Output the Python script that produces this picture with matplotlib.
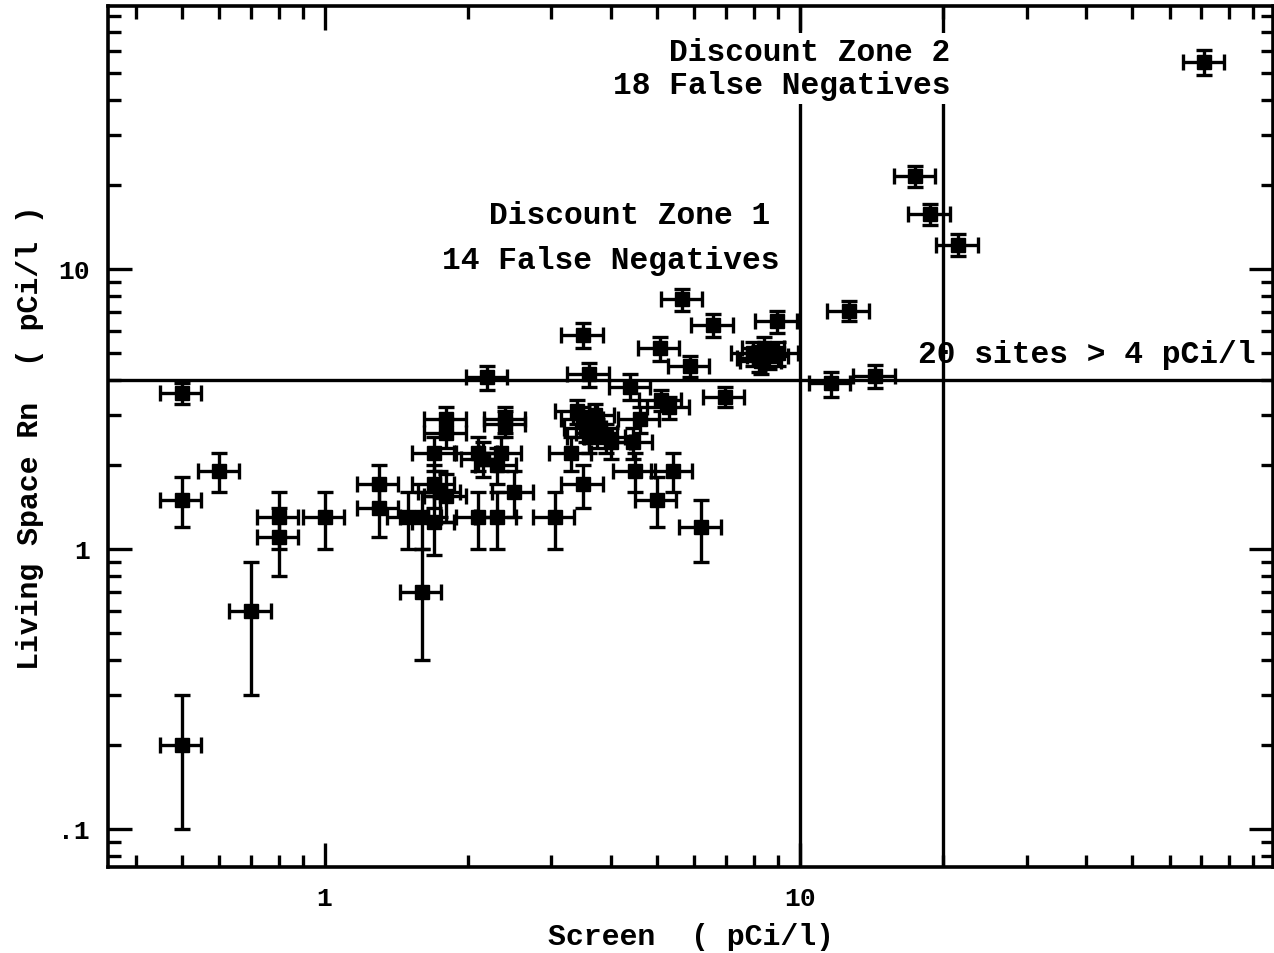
import numpy as np
import matplotlib
matplotlib.use("Agg")
from matplotlib import pyplot as plt
from matplotlib.ticker import FixedLocator, FixedFormatter, LogLocator, NullFormatter

# screening measurement (pCi/l) and living space radon (pCi/l)
screen = [0.50, 0.50, 0.60, 0.70, 0.50, 0.80, 0.80, 1.00,
          1.30, 1.30, 1.50, 1.60, 1.70, 1.60, 1.70, 1.70, 1.75, 1.80, 1.80, 1.80,
          2.10, 2.10, 2.15, 2.30, 2.30, 2.35, 2.40, 2.40, 2.50, 2.20,
          3.05, 3.50, 3.30, 3.40, 3.50, 3.55, 3.60, 3.70, 3.75, 3.90, 4.00, 3.60, 3.50,
          4.40, 4.45, 4.60, 4.50, 5.40, 5.00, 6.20, 5.10, 5.30, 6.95,
          5.07, 5.66, 5.86, 6.56, 8.95,
          7.95, 8.20, 8.40, 8.60, 8.30, 9.00,
          11.6, 12.7, 14.4, 17.5, 18.8, 21.5, 71.0]
living = [3.6, 1.5, 1.9, 0.6, 0.2, 1.3, 1.1, 1.3,
          1.7, 1.4, 1.3, 1.3, 1.25, 0.7, 1.7, 2.2, 1.6, 2.9, 2.6, 1.55,
          2.2, 1.3, 2.1, 1.3, 2.0, 2.2, 2.9, 2.8, 1.6, 4.1,
          1.3, 1.7, 2.2, 3.1, 2.9, 2.7, 2.5, 3.0, 2.6, 2.5, 2.4, 4.2, 5.8,
          3.8, 2.4, 2.9, 1.9, 1.9, 1.5, 1.2, 3.4, 3.2, 3.5,
          5.2, 7.8, 4.5, 6.3, 6.5,
          5.0, 4.8, 5.2, 4.9, 4.7, 5.0,
          3.9, 7.1, 4.15, 21.5, 15.7, 12.2, 55.0]
living_err = [0.3, 0.3, 0.3, 0.3, 0.1, 0.3, 0.3, 0.3,
              0.3, 0.3, 0.3, 0.3, 0.3, 0.3, 0.3, 0.3, 0.3, 0.3, 0.3, 0.3,
              0.3, 0.3, 0.3, 0.3, 0.3, 0.3, 0.3, 0.3, 0.3, 0.4,
              0.3, 0.3, 0.3, 0.3, 0.3, 0.3, 0.3, 0.3, 0.3, 0.3, 0.3, 0.4, 0.6,
              0.4, 0.3, 0.3, 0.3, 0.3, 0.3, 0.3, 0.3, 0.3, 0.3,
              0.5, 0.7, 0.4, 0.6, 0.6,
              0.5, 0.5, 0.5, 0.5, 0.5, 0.5,
              0.4, 0.6, 0.4, 1.8, 1.4, 1.1, 5.5]
screen_rel_err = 0.10

action_level = 4
zone_limits = [10, 20]

FONT = "Liberation Mono"

fig = plt.figure(figsize=(12.74, 9.54), dpi=100)
ax = fig.add_axes([0.0848, 0.0901, 0.9144, 0.9026])

x = np.array(screen)
y = np.array(living)
ax.errorbar(x, y, xerr=screen_rel_err * x, yerr=living_err, fmt='s',
            color='black', ms=10, elinewidth=2.4, capsize=6, capthick=2.4, zorder=3)

ax.axhline(action_level, color='black', lw=2.4, zorder=2)
for z in zone_limits:
    ax.axvline(z, color='black', lw=2.4, zorder=2)

ax.set_xscale('log')
ax.set_yscale('log')
ax.set_xlim(0.35, 99)
ax.set_ylim(0.073, 87)

ax.xaxis.set_major_locator(FixedLocator([1, 10]))
ax.xaxis.set_major_formatter(FixedFormatter(['1', '10']))
ax.yaxis.set_major_locator(FixedLocator([0.1, 1, 10]))
ax.yaxis.set_major_formatter(FixedFormatter(['.1', '1', '10']))
for axis in (ax.xaxis, ax.yaxis):
    axis.set_minor_locator(LogLocator(base=10, subs=np.arange(2, 10)))
    axis.set_minor_formatter(NullFormatter())

ax.tick_params(which='both', direction='in', top=True, right=True, width=2.4)
ax.tick_params(which='major', length=17)
ax.tick_params(which='minor', length=9)
ax.tick_params(axis='x', pad=14)
ax.tick_params(axis='y', pad=13)
for lab in ax.get_xticklabels() + ax.get_yticklabels():
    lab.set_fontfamily(FONT)
    lab.set_fontweight('bold')
    lab.set_fontsize(19)
for s in ax.spines.values():
    s.set_linewidth(2.6)

lab_kw = dict(fontfamily=FONT, fontweight='bold', fontsize=21.5)
ax.set_xlabel('Screen  ( pCi/l)', va='center', **lab_kw)
ax.xaxis.set_label_coords(0.5, -0.080)
ax.set_ylabel('Living Space Rn  ( pCi/l )', va='center', **lab_kw)
ax.yaxis.set_label_coords(-0.067, 0.5)

txt_kw = dict(fontfamily=FONT, fontweight='bold', fontsize=22.5, va='center', ha='right', zorder=4)
box = dict(facecolor='white', edgecolor='none', pad=3)
ax.text(20.7, 59.6, 'Discount Zone 2', bbox=box, **txt_kw)
ax.text(20.7, 45.4, '18 False Negatives', bbox=box, **txt_kw)
ax.text(8.65, 15.6, 'Discount Zone 1', **txt_kw)
ax.text(9.08, 10.8, '14 False Negatives', **txt_kw)
ax.text(90.8, 4.97, '20 sites > 4 pCi/l', **txt_kw)

fig.savefig('out.png', dpi=100)
